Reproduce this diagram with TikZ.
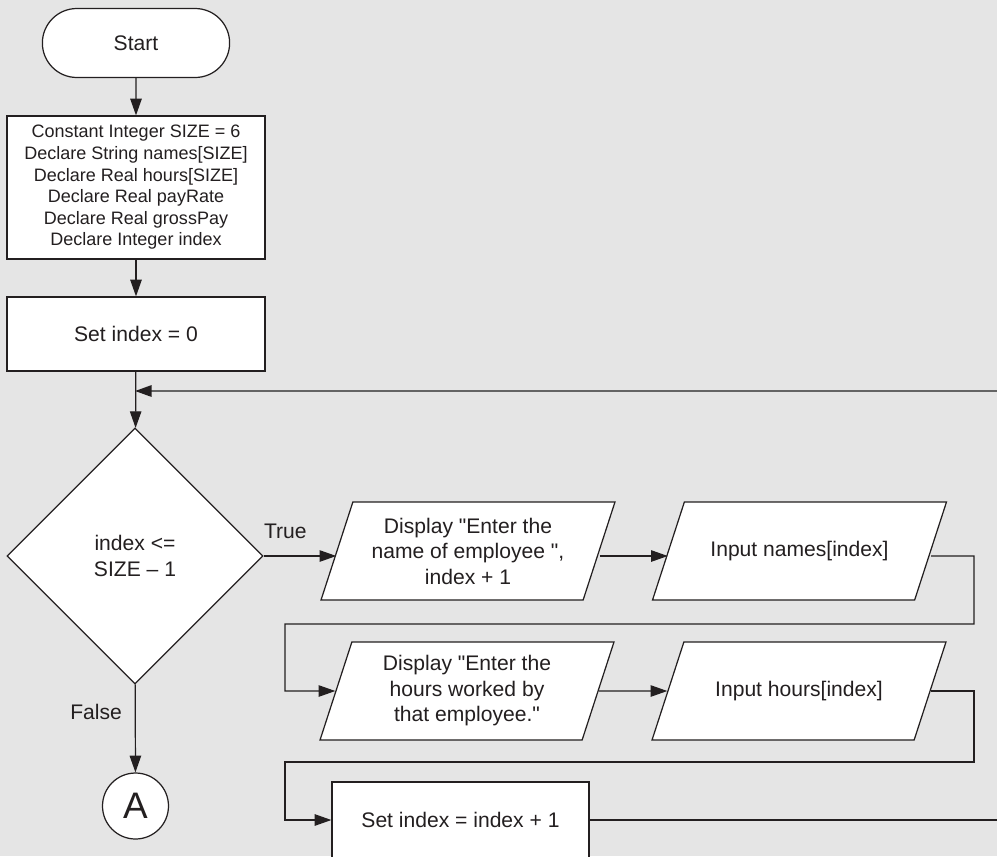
\documentclass[tikz,border=0pt]{standalone}
\usepackage{fontspec}
\setmainfont{Liberation Sans}
\usetikzlibrary{positioning,arrows.meta,shapes.geometric,shapes.misc}
\definecolor{pagebg}{HTML}{E5E5E5}
\definecolor{ink}{HTML}{231F20}
\definecolor{loopline}{HTML}{646464}
\newcommand{\iotext}[1]{\parbox[c][1.96cm][c]{4.2cm}{\centering #1}}
\tikzset{
  flow/.style={draw=ink,line width=0.7pt,fill=white,text=ink,font=\fontsize{12}{14.5}\selectfont,align=center},
  termbox/.style={flow,rounded rectangle,minimum width=3.98cm,minimum height=1.38cm},
  procbox/.style={flow,rectangle,minimum width=5.16cm},
  iobox/.style={flow,trapezium,trapezium left angle=72,trapezium right angle=108,trapezium stretches body=true,minimum width=5.88cm,inner sep=0pt},
  decbox/.style={flow,diamond,minimum width=5.12cm,minimum height=5.12cm,inner sep=0pt},
  connbox/.style={flow,circle,minimum size=1.32cm,inner sep=0pt,font=\fontsize{21}{25}\selectfont},
  flowline/.style={draw=ink,line width=0.7pt},
  flowarrow/.style={flowline,-{Triangle[length=9.5pt,width=6.5pt,color=ink]}},
  lbl/.style={text=ink,font=\fontsize{12}{14.5}\selectfont}
}

\begin{document}
\begin{tikzpicture}[x=0.02cm,y=-0.02cm]
    \fill[pagebg] (0,0) rectangle (997,856);
    \useasboundingbox (0,0) rectangle (997,856);
    \clip (0,0) rectangle (997,856);
    \node[termbox] (start) at (136,43) {Start};
    \node[procbox,minimum height=2.86cm,font=\fontsize{10.25}{12.3}\selectfont] (decl) at (136,187.5)
      {Constant Integer SIZE = 6\\Declare String names[SIZE]\\Declare Real hours[SIZE]\\Declare Real payRate\\Declare Real grossPay\\Declare Integer index};
    \node[procbox,minimum height=1.48cm] (init) at (136,334) {Set index = 0};
    \node[decbox] (test) at (135,556) {index <=\\SIZE \textendash{} 1};
    \node[iobox] (disp1) at (468,551) {\iotext{Display \textquotedbl Enter the\\name of employee \textquotedbl,\\index + 1}};
    \node[iobox] (names) at (799.5,551) {\iotext{Input names[index]}};
    \node[iobox] (disp2) at (467,691) {\iotext{Display \textquotedbl Enter the\\hours worked by\\that employee.\textquotedbl}};
    \node[iobox] (hours) at (799,691) {\iotext{Input hours[index]}};
    \node[procbox,minimum width=5.14cm,minimum height=1.52cm] (incr) at (460.5,820) {Set index = index + 1};
    \node[connbox] (conA) at (135.5,806) {A};
    \coordinate (loopin) at (997,391);
    \coordinate (loopout) at (997,820);
    \coordinate (rjog) at (974,0);
    \coordinate (ljog) at (285,0);
    \coordinate (row1) at (0,624);
    \coordinate (row2) at (0,762);
    \draw[flowarrow] (start) -- (decl);
    \draw[flowarrow] (decl) -- (init);
    \draw[flowarrow] (init) -- (test);
    \draw[flowarrow,draw=loopline,line width=1.1pt] (loopin) -- (loopin -| test);
    \draw[flowarrow] (test.east) -- (test.east -| disp1.west) node[lbl,pos=0.3,above=6pt] {True};
    \draw[flowarrow] (disp1.east |- test.east) -- (names.west |- test.east);
    \draw[flowarrow] (names.east |- test.east) -- (rjog |- test.east) -- (rjog |- row1)
      -- (ljog |- row1) -- (ljog |- disp2) -- (disp2.west);
    \draw[flowarrow] (disp2) -- (hours);
    \draw[flowarrow] (hours.east) -- (rjog |- hours.east) -- (rjog |- row2)
      -- (ljog |- row2) -- (ljog |- incr) -- (incr.west);
    \draw[flowline] (incr.east) -- (incr.east -| loopout);
    \draw[flowarrow] (test) -- (conA) node[lbl,pos=0.31,left=4pt] {False};
  \end{tikzpicture}
\end{document}
